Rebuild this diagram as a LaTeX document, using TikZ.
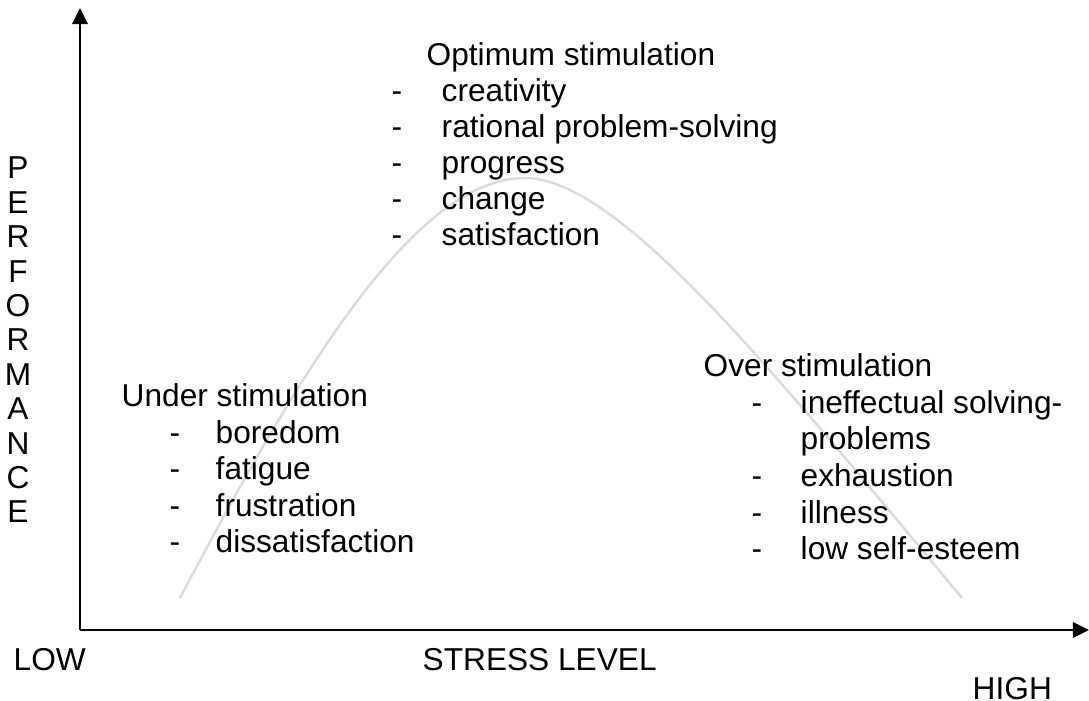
\documentclass[tikz,border=0pt]{standalone}
\usepackage{fontspec}
\setmainfont{Liberation Sans}
\usetikzlibrary{arrows.meta}

\begin{document}
\begin{tikzpicture}[x=0.01cm,y=-0.01cm,
  lbl/.style={anchor=base west,inner sep=0pt,font=\fontsize{9}{10}\selectfont},
  axis/.style={line width=0.6pt,-{Triangle[length=4.6pt,width=4.4pt]}}]

  \useasboundingbox (0,0) rectangle (1089,701);

  % axes
  \coordinate (origin) at (80,630);
  \coordinate (ytip) at (80,8);
  \coordinate (xtip) at (1089,630);
  \draw[axis] (origin) -- (ytip);
  \draw[axis] (origin) -- (xtip);

  % stress curve
  \draw[gray!28,line width=0.7pt] (180,598) .. controls (290,390) and (410,178) .. (525,178)
    .. controls (620,178) and (780,380) .. (962,598);

  % vertical axis label
  \foreach \ch [count=\i from 0] in {P,E,R,F,O,R,M,A,N,C,E}
    \node[lbl,anchor=base] (perf\i) at (18,{179+34.4*\i}) {\ch};

  % horizontal axis labels
  \node[lbl] (low) at (13,670) {LOW};
  \node[lbl] (stress) at (422,670) {STRESS LEVEL};
  \node[lbl] (high) at (972,699) {HIGH};

  % optimum
  \node[lbl] (optimum) at (426,66) {Optimum stimulation};
  \foreach \txt [count=\i] in {creativity,rational problem-solving,progress,change,satisfaction}{
    \node[lbl] (optdash\i) at (391,{66+36*\i}) {-};
    \node[lbl] (optitem\i) at (441,{66+36*\i}) {\txt};
  }

  % under
  \node[lbl] (under) at (121,407) {Under stimulation};
  \foreach \txt [count=\i] in {boredom,fatigue,frustration,dissatisfaction}{
    \node[lbl] (underdash\i) at (169,{407+36.5*\i}) {-};
    \node[lbl] (underitem\i) at (215,{407+36.5*\i}) {\txt};
  }

  % over
  \node[lbl] (over) at (703,377) {Over stimulation};
  \node[lbl] (overdash1) at (751,414) {-};
  \node[lbl] (overitem1) at (800,414) {ineffectual solving-};
  \node[lbl] (overitem1b) at (800,450) {problems};
  \foreach \txt [count=\i from 2] in {exhaustion,illness,low self-esteem}{
    \node[lbl] (overdash\i) at (751,{414+36.5*\i}) {-};
    \node[lbl] (overitem\i) at (800,{414+36.5*\i}) {\txt};
  }

\end{tikzpicture}
\end{document}
